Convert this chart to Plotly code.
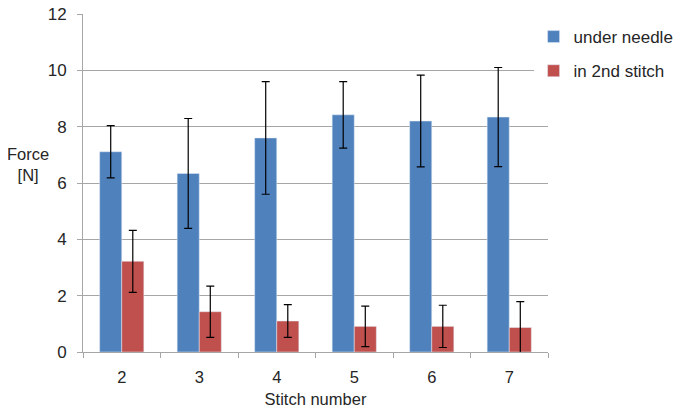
import plotly.graph_objects as go

stitch = ["2", "3", "4", "5", "6", "7"]
under_needle = [7.11, 6.34, 7.60, 8.42, 8.20, 8.34]
under_needle_err = [0.93, 1.95, 2.00, 1.18, 1.63, 1.76]
in_2nd_stitch = [3.22, 1.43, 1.10, 0.91, 0.91, 0.87]
in_2nd_stitch_err = [1.10, 0.91, 0.58, 0.72, 0.75, 0.92]

FONT = "Liberation Sans, Arial, sans-serif"
GRID = "#a6a6a6"
TXT = "#262626"

fig = go.Figure()
fig.add_trace(go.Bar(
    x=stitch, y=under_needle, name="under needle",
    marker_color="#4f81bd", legendgroup="a",
    error_y=dict(type="data", array=under_needle_err, color="black", thickness=1.2, width=4),
))
fig.add_trace(go.Bar(
    x=stitch, y=in_2nd_stitch, name="in 2nd stitch",
    marker_color="#c0504d", legendgroup="b",
    error_y=dict(type="data", array=in_2nd_stitch_err, color="black", thickness=1.2, width=4),
))

# page has an 8px body margin, so the figure is a bit smaller than the window
fig.update_layout(
    width=675, height=403,
    margin=dict(l=75, r=135, t=6, b=59, autoexpand=False),
    barmode="group", bargap=0.43, bargroupgap=0,
    plot_bgcolor="white", paper_bgcolor="white",
    font=dict(family=FONT, size=17, color=TXT),
    legend=dict(
        x=0.969, y=0.985, xanchor="left", yanchor="top",
        traceorder="grouped", tracegroupgap=9,
        font=dict(size=17, color=TXT),
        itemwidth=30,
    ),
    xaxis=dict(
        title=dict(text="Stitch number", font=dict(size=16.5), standoff=8),
        showline=True, linecolor=GRID, linewidth=1,
        ticks="outside", ticklen=5, tickcolor=GRID, tickson="boundaries",
        tickfont=dict(size=16.5), ticklabelstandoff=10, automargin=False,
    ),
    yaxis=dict(
        range=[0, 12.0001], tickvals=[0, 2, 4, 6, 8, 10, 12],
        showgrid=True, gridcolor=GRID, gridwidth=1,
        showline=True, linecolor=GRID, linewidth=1,
        ticks="outside", ticklen=5, tickcolor=GRID,
        tickfont=dict(size=17), ticklabelstandoff=7, ticklabeloverflow="allow",
        zeroline=False, automargin=False,
    ),
    annotations=[dict(
        text="Force<br>[N]", xref="paper", yref="paper",
        x=-0.118, y=0.555, xanchor="center", yanchor="middle",
        showarrow=False, font=dict(size=16.5, color=TXT),
    )],
)

fig.write_html("out.html")
